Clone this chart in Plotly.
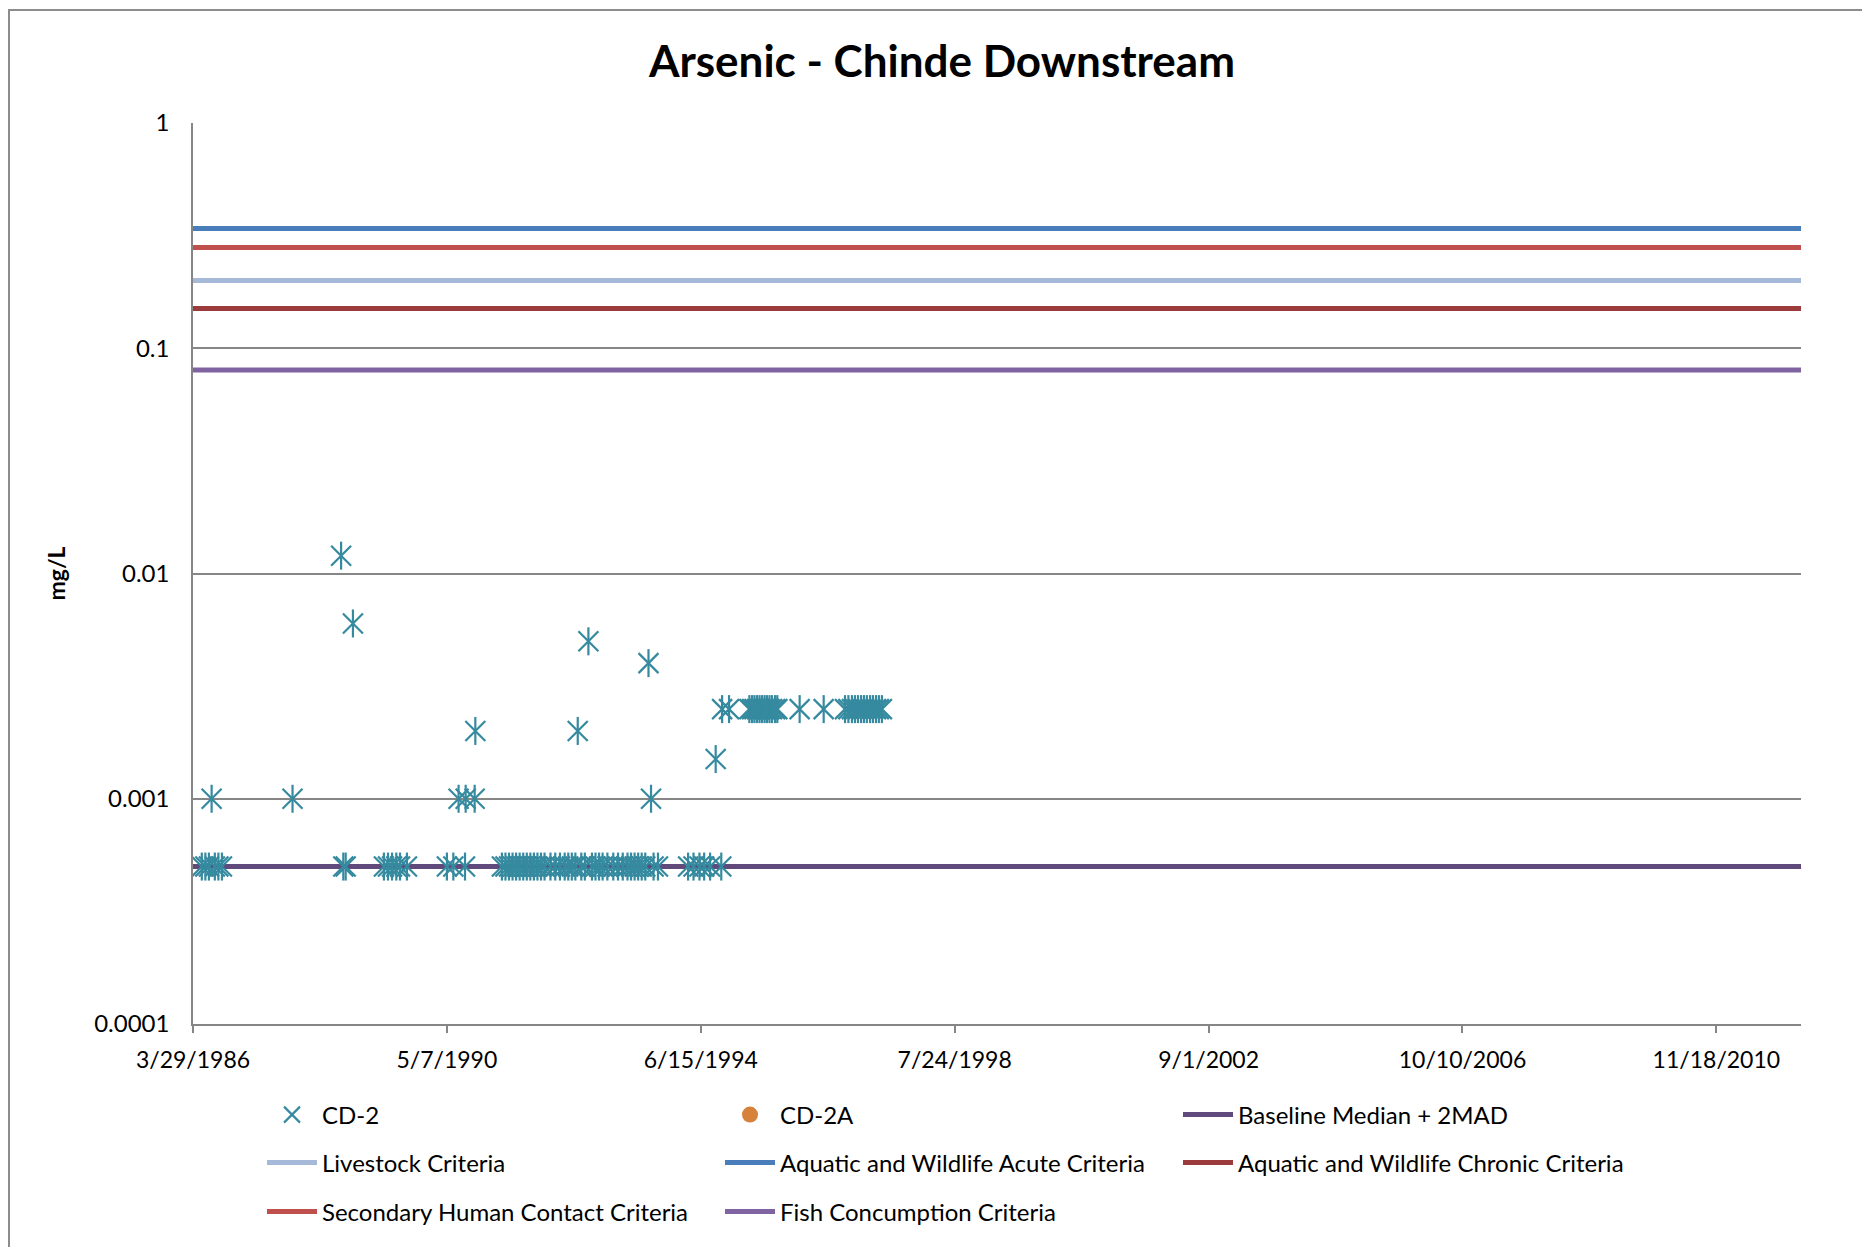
import plotly.graph_objects as go

title_text = "Arsenic - Chinde Downstream"
y_title = "mg/L"

x_axis_range = ["1986-03-29", "2012-04-01"]
x_tick_dates = ["1986-03-29", "1990-05-07", "1994-06-15", "1998-07-24",
                "2002-09-01", "2006-10-10", "2010-11-18"]
x_tick_labels = ["3/29/1986", "5/7/1990", "6/15/1994", "7/24/1998",
                 "9/1/2002", "10/10/2006", "11/18/2010"]
y_tick_values = [0.0001, 0.001, 0.01, 0.1, 1]
y_tick_labels = ["0.0001", "0.001", "0.01", "0.1", "1"]

# CD-2 sample results (mg/L)
cd2_dates = [
    "1986-05-20", "1986-06-10", "1986-07-01", "1986-07-17", "1986-08-05", "1986-08-26", "1986-09-16",
    "1987-11-07",
    "1988-08-20", "1988-09-02", "1988-09-16", "1988-10-29",
    "1989-04-30", "1989-05-24", "1989-06-17", "1989-07-12", "1989-08-03", "1989-09-13",
    "1990-05-07", "1990-06-14", "1990-07-15", "1990-08-22", "1990-08-26", "1990-10-18", "1990-10-22",
    "1991-03-28", "1991-04-18", "1991-05-09", "1991-05-30", "1991-06-20", "1991-07-11",
    "1991-08-01", "1991-08-22", "1991-09-12", "1991-10-03", "1991-10-24", "1991-11-14",
    "1991-12-05", "1992-01-09", "1992-02-06", "1992-03-05", "1992-04-02", "1992-04-23",
    "1992-05-14", "1992-06-04", "1992-06-18", "1992-07-09", "1992-07-30", "1992-08-20",
    "1992-09-10", "1992-10-01", "1992-10-22", "1992-11-12", "1992-12-10", "1993-01-14",
    "1993-02-11", "1993-03-11", "1993-04-08", "1993-04-29", "1993-05-20", "1993-06-10",
    "1993-07-01", "1993-07-22", "1993-08-10", "1993-08-25", "1993-09-09", "1993-10-05",
    "1994-04-01", "1994-05-03", "1994-06-07", "1994-07-05", "1994-08-09", "1994-09-11", "1994-10-14",
    "1994-10-19", "1994-11-29", "1995-03-29", "1995-04-14", "1995-04-28", "1995-05-13",
    "1995-05-28", "1995-06-12", "1995-06-27", "1995-07-11", "1995-07-26", "1995-08-10",
    "1995-08-28", "1995-09-10", "1996-01-20", "1996-06-10", "1996-10-14", "1996-11-03",
    "1996-11-24", "1996-12-12", "1996-12-30", "1997-01-17", "1997-02-03", "1997-02-20",
    "1997-03-11", "1997-03-28", "1997-04-15", "1997-05-02", "1997-05-20",
]
cd2_values = [
    0.0005, 0.0005, 0.0005, 0.001, 0.0005, 0.0005, 0.0005,
    0.001,
    0.012, 0.0005, 0.0005, 0.006,
    0.0005, 0.0005, 0.0005, 0.0005, 0.0005, 0.0005,
    0.0005, 0.0005, 0.001, 0.0005, 0.001, 0.001, 0.002,
    0.0005, 0.0005, 0.0005, 0.0005, 0.0005, 0.0005,
    0.0005, 0.0005, 0.0005, 0.0005, 0.0005, 0.0005,
    0.0005, 0.0005, 0.0005, 0.0005, 0.0005, 0.0005,
    0.0005, 0.0005, 0.002, 0.0005, 0.0005, 0.005,
    0.0005, 0.0005, 0.0005, 0.0005, 0.0005, 0.0005,
    0.0005, 0.0005, 0.0005, 0.0005, 0.0005, 0.0005,
    0.0005, 0.0005, 0.004, 0.001, 0.0005, 0.0005,
    0.0005, 0.0005, 0.0005, 0.0005, 0.0005, 0.0015, 0.0005,
    0.0025, 0.0025, 0.0025, 0.0025, 0.0025, 0.0025,
    0.0025, 0.0025, 0.0025, 0.0025, 0.0025, 0.0025,
    0.0025, 0.0025, 0.0025, 0.0025, 0.0025, 0.0025,
    0.0025, 0.0025, 0.0025, 0.0025, 0.0025, 0.0025,
    0.0025, 0.0025, 0.0025, 0.0025, 0.0025,
]

# CD-2A has no results plotted
cd2a_dates = []
cd2a_values = []

criteria_names = ["Baseline Median + 2MAD", "Livestock Criteria",
                  "Aquatic and Wildlife Acute Criteria", "Aquatic and Wildlife Chronic Criteria",
                  "Secondary Human Contact Criteria", "Fish Concumption Criteria"]
criteria_values = [0.0005, 0.2, 0.34, 0.15, 0.28, 0.08]
criteria_colors = ["#604A7B", "#A6B9D9", "#4A7EBB", "#9B3B3B", "#C0504D", "#8064A2"]
criteria_legends = ["legend", "legend2", "legend2", "legend2", "legend3", "legend3"]
criteria_ranks = [3, 4, 5, 6, 7, 8]

FONT = "Lato"
TEAL = "#358A9F"

fig = go.Figure()

for name, val, col, lg, rk in zip(criteria_names, criteria_values, criteria_colors,
                                   criteria_legends, criteria_ranks):
    fig.add_trace(go.Scatter(
        x=x_axis_range, y=[val, val], mode="lines", name=name,
        line=dict(color=col, width=5), legend=lg, legendrank=rk,
        hoverinfo="skip"))

fig.add_trace(go.Scatter(
    x=cd2_dates, y=cd2_values, mode="markers", name="CD-2", legend="legend", legendrank=1,
    marker=dict(symbol="x-thin-open", size=20, color=TEAL, line=dict(color=TEAL, width=2.2))))
fig.add_trace(go.Scatter(
    x=cd2_dates, y=cd2_values, mode="markers", name="CD-2", showlegend=False,
    marker=dict(symbol="line-ns-open", size=20, color=TEAL, line=dict(color=TEAL, width=2.2))))
fig.add_trace(go.Scatter(
    x=cd2a_dates if cd2a_dates else [None], y=cd2a_values if cd2a_values else [None],
    mode="markers", name="CD-2A", legend="legend", legendrank=2,
    marker=dict(symbol="circle", size=17, color="#D7823A")))

# page has an 8px body margin; work in page coordinates and convert
OFF = 8
W, H = 1870 - OFF, 1247 - OFF
PLOT_L, PLOT_R, PLOT_T, PLOT_B = 193, 1801, 123, 1024   # page coordinates
L, T = PLOT_L - OFF, PLOT_T - OFF
R, B = W - (PLOT_R - OFF), H - (PLOT_B - OFF)
pw, ph = PLOT_R - PLOT_L, PLOT_B - PLOT_T

def px(xp):
    return (xp - PLOT_L) / pw

def py(yp):
    return (PLOT_B - yp) / ph

leg_common = dict(orientation="h", xanchor="left", yanchor="middle",
                  entrywidth=393, entrywidthmode="pixels", itemwidth=50,
                  font=dict(family=FONT, size=24, color="#000000"),
                  bgcolor="rgba(0,0,0,0)", borderwidth=0, traceorder="normal")

fig.update_layout(
    width=W, height=H,
    margin=dict(l=L, r=R, t=T, b=B, autoexpand=False),
    paper_bgcolor="white", plot_bgcolor="white",
    font=dict(family=FONT, color="#000000"),
    title=dict(text="<b>" + title_text + "</b>", x=(942 - OFF) / W, xref="container", xanchor="center",
               y=1 - (62 - OFF) / H, yref="container", yanchor="middle",
               font=dict(family=FONT, size=44, color="#000000")),
    legend=dict(x=px(262), y=py(1115), **leg_common),
    legend2=dict(x=px(262), y=py(1163), **leg_common),
    legend3=dict(x=px(262), y=py(1212), **leg_common),
    xaxis=dict(type="date", range=x_axis_range, tickvals=x_tick_dates, ticktext=x_tick_labels,
               showgrid=False, showline=True, linecolor="#868686", linewidth=1.5,
               ticks="outside", ticklen=7, tickwidth=1.5, tickcolor="#868686",
               tickfont=dict(family=FONT, size=23, color="#000000"), ticklabelstandoff=8,
               zeroline=False),
    yaxis=dict(type="log", range=[-4, 0], tickvals=y_tick_values, ticktext=y_tick_labels,
               showgrid=True, gridcolor="#868686", gridwidth=1.5,
               showline=True, linecolor="#868686", linewidth=1.5, ticks="",
               tickfont=dict(family=FONT, size=24, color="#000000"), ticklabelstandoff=17,
               zeroline=False),
    annotations=[dict(text="<b>" + y_title + "</b>", x=px(55), y=0.5, xref="paper", yref="paper",
                      xanchor="center", yanchor="middle", textangle=-90, showarrow=False,
                      font=dict(family=FONT, size=23, color="#000000"))],
    shapes=[dict(type="rect", xref="paper", yref="paper",
                 x0=px(OFF + 1), x1=px(1890), y0=py(1270), y1=py(10),
                 line=dict(color="#8C8C8C", width=2), fillcolor="rgba(0,0,0,0)", layer="below")],
    showlegend=True,
)

fig.write_html("out.html")
